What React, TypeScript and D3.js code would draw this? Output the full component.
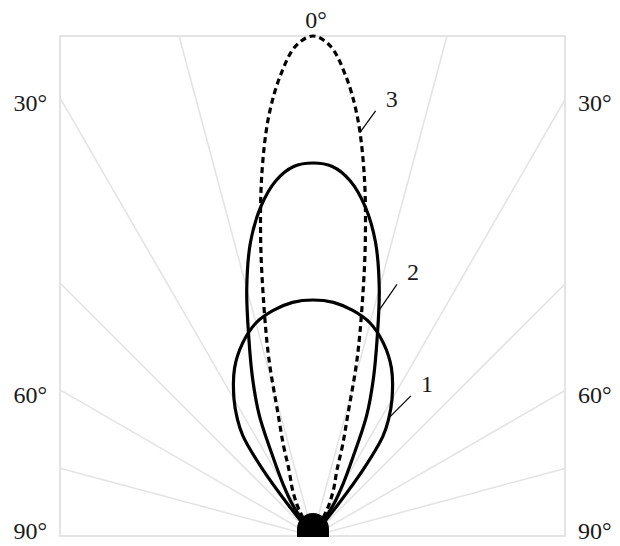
import React from "react";
import * as d3 from "d3";

// Radiation lobes: half-profiles (symmetric about 0°), angle in degrees, relative intensity
const angles1 = [0, 5, 10, 15, 20, 25, 30, 33, 35, 37, 38.5, 40];
const lobe1 = [0.472, 0.469, 0.458, 0.441, 0.411, 0.371, 0.316, 0.277, 0.244, 0.17, 0.08, 0];

const angles2 = [0, 3, 6, 9, 12, 15, 18, 21, 24, 27, 30, 33, 38];
const lobe2 = [0.746, 0.74, 0.714, 0.667, 0.601, 0.512, 0.415, 0.337, 0.264, 0.174, 0.12, 0.078, 0];

const angles3 = [0, 2, 4, 6, 8, 10, 12, 14, 16, 18, 20, 24, 28, 34];
const lobe3 = [1.0, 0.981, 0.925, 0.845, 0.734, 0.603, 0.473, 0.364, 0.253, 0.192, 0.14, 0.1, 0.06, 0];

// Grid rays and angle labels
const rayAngles = [-75, -60, -45, -30, -15, 15, 30, 45, 60, 75];
const labelAngles = [0, 30, 60, 90];

// Curve callouts: curve number and the angle where the leader touches it
const callouts = [
  { name: "1", angle: 32.7, dx: 22, dy: -22 },
  { name: "2", angle: 16.3, dx: 18, dy: -26 },
  { name: "3", angle: 6.6, dx: 16, dy: -22 },
];

const W = 620;
const H = 546;
const frame = { left: 60, right: 565, top: 36, bottom: 536 };
const ox = 313;
const oy = frame.bottom;
const font = "Liberation Serif, Times New Roman, serif";

const r = d3.scaleLinear().domain([0, 1]).range([0, oy - frame.top]);
const rad = (deg: number) => (deg * Math.PI) / 180;

function fullLobe(angles: number[], values: number[]): [number, number][] {
  const right = angles.map((a, i) => [rad(a), r(values[i])] as [number, number]);
  const left = right
    .slice(1)
    .map(([a, v]) => [-a, v] as [number, number])
    .reverse();
  return [...left, ...right];
}

const radial = d3
  .lineRadial<[number, number]>()
  .angle((d) => d[0])
  .radius((d) => d[1])
  .curve(d3.curveCatmullRom.alpha(0.5));

const lobes = [
  { name: "1", angles: angles1, values: lobe1, dash: null },
  { name: "2", angles: angles2, values: lobe2, dash: null },
  { name: "3", angles: angles3, values: lobe3, dash: "6 4" },
];

// Where a ray from the origin meets the frame
function rayEnd(deg: number): [number, number] {
  const s = Math.sin(rad(deg));
  const c = Math.cos(rad(deg));
  const half = s < 0 ? ox - frame.left : frame.right - ox;
  const tx = Math.abs(s) > 1e-9 ? half / Math.abs(s) : Infinity;
  const ty = c > 1e-9 ? (oy - frame.top) / c : Infinity;
  const t = Math.min(tx, ty);
  return [ox + s * t, oy - c * t];
}

export default function App() {
  return (
    <svg
      width={W}
      height={H}
      style={{ position: "absolute", left: 0, top: 0, background: "#fff" }}
      fontFamily={font}
    >
      {/* grid */}
      <g stroke="#e4e4e4" strokeWidth={1.6} fill="none">
        {rayAngles.map((a) => {
          const [x, y] = rayEnd(a);
          return <line key={a} x1={ox} y1={oy} x2={x} y2={y} />;
        })}
        <rect
          x={frame.left}
          y={frame.top}
          width={frame.right - frame.left}
          height={frame.bottom - frame.top}
          strokeWidth={2}
        />
      </g>

      {/* angle labels */}
      <g fontSize={24} fill="#1a1a1a">
        {labelAngles.map((a) => {
          if (a === 0) {
            return (
              <text key={a} x={ox + 3} y={frame.top - 8} textAnchor="middle">
                {`${a}°`}
              </text>
            );
          }
          const [, y] = rayEnd(-a);
          const dy = a === 90 ? 3 : 13;
          return (
            <g key={a}>
              <text x={47} y={y + dy} textAnchor="end">{`${a}°`}</text>
              <text x={578} y={y + dy} textAnchor="start">{`${a}°`}</text>
            </g>
          );
        })}
      </g>

      {/* lobes */}
      <g transform={`translate(${ox},${oy})`} fill="none" stroke="#000">
        {lobes.map((l) => (
          <path
            key={l.name}
            d={radial(fullLobe(l.angles, l.values)) || ""}
            strokeWidth={3.2}
            strokeDasharray={l.dash || undefined}
          />
        ))}
      </g>

      {/* source at the origin */}
      <path
        d={`M${ox - 16},${oy + 1} L${ox - 16},${oy - 7} A16,16 0 0 1 ${ox + 16},${oy - 7} L${ox + 16},${oy + 1} Z`}
        fill="#000"
      />

      {/* callouts */}
      <g fontSize={24} fill="#1a1a1a">
        {callouts.map((c) => {
          const l = lobes.find((d) => d.name === c.name)!;
          const v = d3.scaleLinear().domain(l.angles).range(l.values)(c.angle);
          const x0 = ox + r(v) * Math.sin(rad(c.angle));
          const y0 = oy - r(v) * Math.cos(rad(c.angle));
          const x1 = x0 + c.dx;
          const y1 = y0 + c.dy;
          return (
            <g key={c.name}>
              <line x1={x0} y1={y0} x2={x1} y2={y1} stroke="#000" strokeWidth={1.2} />
              <text x={x1 + 10} y={y1 - 4}>
                {c.name}
              </text>
            </g>
          );
        })}
      </g>
    </svg>
  );
}
